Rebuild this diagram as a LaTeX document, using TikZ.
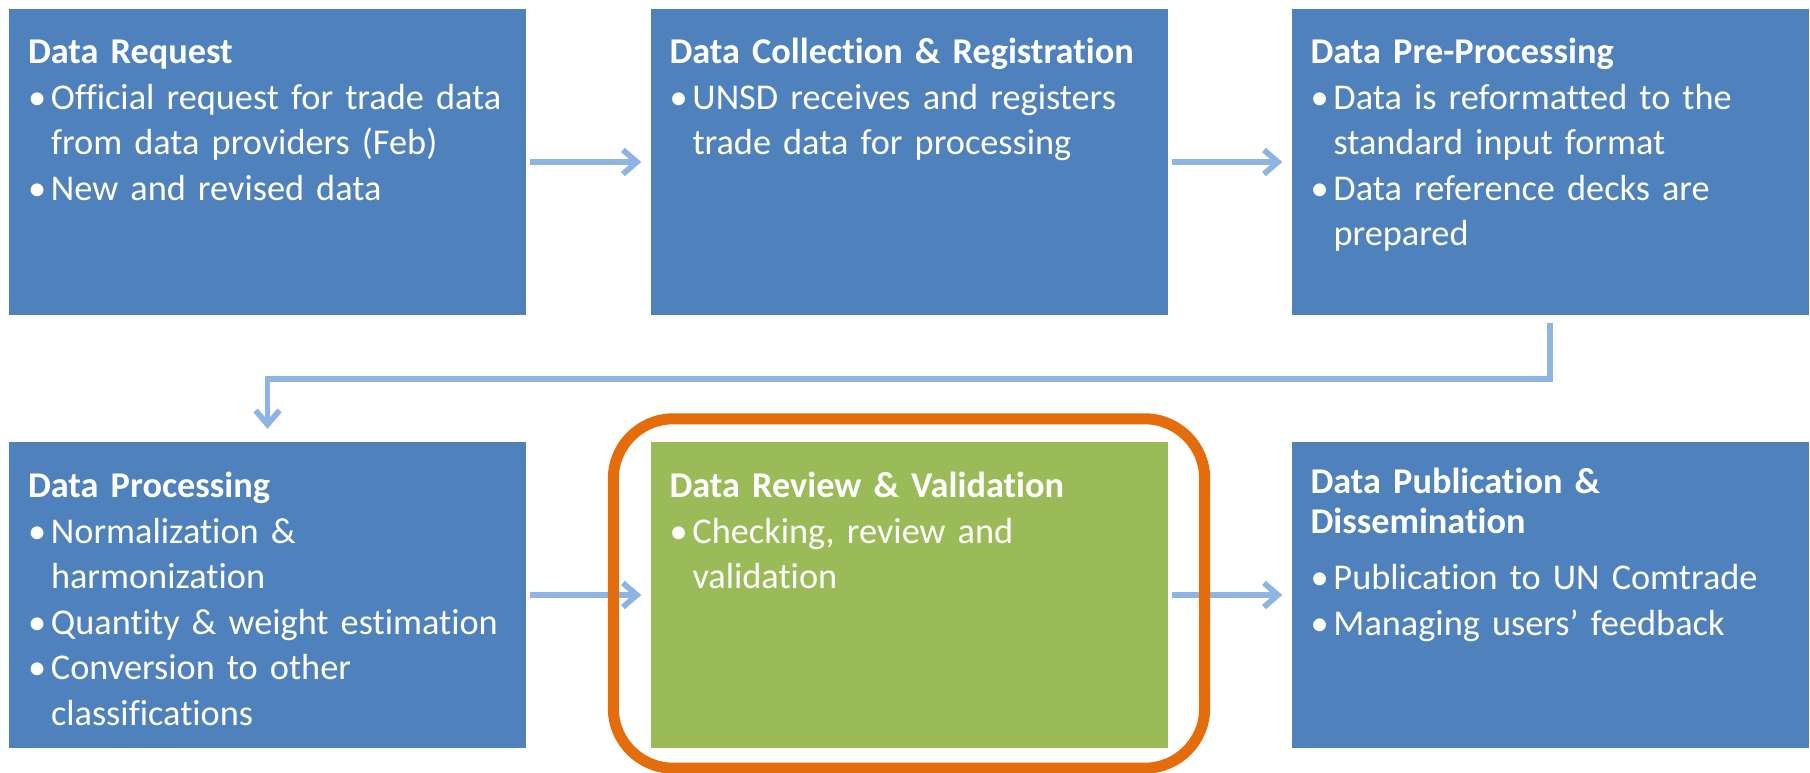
\documentclass[tikz,border=0pt]{standalone}
\usepackage{fontspec}
\setmainfont[Ligatures=NoCommon]{Carlito}
\usepackage{xcolor}
\usetikzlibrary{arrows.meta,positioning,calc}

\definecolor{stageblue}{HTML}{4F81BD}
\definecolor{stagegreen}{HTML}{9BBB59}
\definecolor{flowblue}{HTML}{8DB4E2}
\definecolor{markorange}{HTML}{E46C0A}

\newcommand{\stagehead}[1]{\noindent{\bfseries #1}\par}
\newcommand{\stageitem}[1]{\hangindent=23pt\hangafter=1\noindent\makebox[23pt][l]{•}#1\par}

\begin{document}
\begin{tikzpicture}[x=1pt,y=-1pt,
    stagebox/.style={rectangle, fill=stageblue, minimum width=517pt, minimum height=306pt, inner sep=0pt},
    stagetext/.style={anchor=base west, inner sep=0pt, text=white, text width=495pt,
      font=\fontsize{36.3}{45.5}\selectfont\raggedright},
    flow/.style={draw=flowblue, line width=5.7pt, -{Straight Barb[length=14pt,width=24pt]},
      shorten <=4pt, shorten >=9pt},
    highlight/.style={draw=markorange, line width=11pt, rounded corners=60pt}]
  \useasboundingbox[fill=white] (0,0) rectangle (1810,773);

  \node[stagebox] (req)  at (267.5,162) {};
  \node[stagebox] (coll) at (909,162) {};
  \node[stagebox] (prep) at (1550,162) {};
  \node[stagebox] (proc) at (267.5,595) {};
  \node[stagebox, fill=stagegreen] (rev) at (909,595) {};
  \node[stagebox] (pub)  at (1550,595) {};

  \node[stagetext] (reqtext) at ($(req.north west)+(19,55)$) {%
    \stagehead{Data Request}
    \stageitem{Official request for trade data\newline from data providers (Feb)}
    \stageitem{New and revised data}};
  \node[stagetext] (colltext) at ($(coll.north west)+(19,55)$) {%
    \stagehead{Data Collection \& Registration}
    \stageitem{UNSD receives and registers\newline trade data for processing}};
  \node[stagetext] (preptext) at ($(prep.north west)+(19,55)$) {%
    \stagehead{Data Pre-Processing}
    \stageitem{Data is reformatted to the\newline standard input format}
    \stageitem{Data reference decks are\newline prepared}};
  \node[stagetext] (proctext) at ($(proc.north west)+(19,56)$) {%
    \stagehead{Data Processing}
    \stageitem{Normalization \&\newline harmonization}
    \stageitem{Quantity \& weight estimation}
    \stageitem{Conversion to other\newline classifications}};
  \node[stagetext] (revtext) at ($(rev.north west)+(19,56)$) {%
    \stagehead{Data Review \& Validation}
    \stageitem{Checking, review and\newline validation}};
  \node[stagetext] (pubtext) at ($(pub.north west)+(19,52)$) {%
    \noindent{\bfseries Data Publication \&}\\[-6pt]{\bfseries Dissemination}\par
    \vspace{11pt}
    \stageitem{Publication to UN Comtrade}
    \stageitem{Managing users’ feedback}};

  \draw[flow] (req) -- (coll);
  \draw[flow] (coll) -- (prep);
  \draw[flow, shorten <=8pt, shorten >=13pt] (prep.south) -- ++(0,64) -| (proc.north);
  \draw[flow] (proc) -- (rev);
  \draw[flow] (rev) -- (pub);

  % highlight round the review stage
  \draw[highlight] ($(rev.north west)+(-37,-23)$) rectangle ($(rev.south east)+(37,20)$);
\end{tikzpicture}
\end{document}
